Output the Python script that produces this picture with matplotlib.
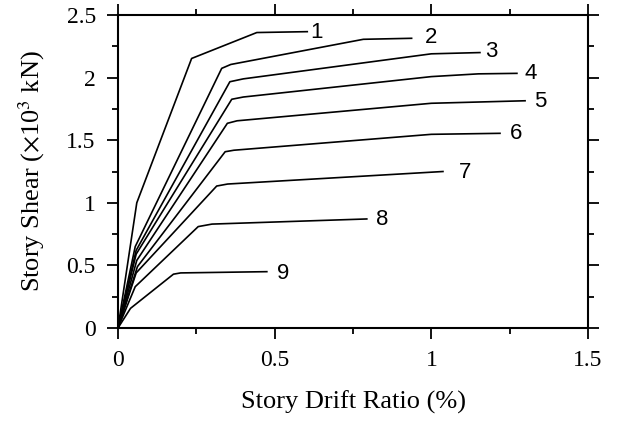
import numpy as np
import matplotlib
matplotlib.use('Agg')
import matplotlib.pyplot as plt
from matplotlib.ticker import MultipleLocator, FuncFormatter

plt.rcParams['font.family'] = ['Liberation Serif', 'DejaVu Serif']
plt.rcParams['mathtext.fontset'] = 'stix'

# pushover curves per story: drift ratio (%) vs story shear (x10^3 kN)
drift_1 = [0, 0.06, 0.235, 0.443, 0.604]
shear_1 = [0, 1.00, 2.153, 2.360, 2.367]
drift_2 = [0, 0.055, 0.331, 0.36, 0.783, 0.937]
shear_2 = [0, 0.65, 2.074, 2.105, 2.306, 2.314]
drift_3 = [0, 0.058, 0.357, 0.40, 1.0, 1.155]
shear_3 = [0, 0.62, 1.967, 1.99, 2.19, 2.20]
drift_4 = [0, 0.058, 0.363, 0.40, 1.0, 1.15, 1.273]
shear_4 = [0, 0.59, 1.827, 1.845, 2.008, 2.03, 2.034]
drift_5 = [0, 0.06, 0.349, 0.38, 1.0, 1.299]
shear_5 = [0, 0.54, 1.635, 1.655, 1.795, 1.815]
drift_6 = [0, 0.062, 0.342, 0.37, 1.0, 1.219]
shear_6 = [0, 0.49, 1.408, 1.42, 1.547, 1.555]
drift_7 = [0, 0.058, 0.315, 0.35, 1.037]
shear_7 = [0, 0.44, 1.134, 1.15, 1.25]
drift_8 = [0, 0.055, 0.256, 0.30, 0.794]
shear_8 = [0, 0.33, 0.81, 0.83, 0.871]
drift_9 = [0, 0.04, 0.177, 0.20, 0.475]
shear_9 = [0, 0.157, 0.43, 0.44, 0.45]

story_names = ['1', '2', '3', '4', '5', '6', '7', '8', '9']
label_x = [0.635, 0.999, 1.19, 1.318, 1.347, 1.27, 1.107, 0.843, 0.526]
label_y = [2.364, 2.324, 2.212, 2.029, 1.813, 1.55, 1.246, 0.863, 0.439]

drifts = [drift_1, drift_2, drift_3, drift_4, drift_5, drift_6, drift_7, drift_8, drift_9]
shears = [shear_1, shear_2, shear_3, shear_4, shear_5, shear_6, shear_7, shear_8, shear_9]

fig = plt.figure(figsize=(6.19, 4.24), dpi=100)
ax = fig.add_axes([0.1906, 0.2264, 0.7594, 0.7382])

for d, s in zip(drifts, shears):
	ax.plot(d, s, color='black', linewidth=1.2)

for name, lx, ly in zip(story_names, label_x, label_y):
	ax.text(lx, ly, name, family=['Liberation Sans', 'DejaVu Sans'], fontsize=16,
		ha='center', va='center')

ax.set_xlim(0, 1.5)
ax.set_ylim(0, 2.5)
ax.xaxis.set_major_locator(MultipleLocator(0.5))
ax.xaxis.set_minor_locator(MultipleLocator(0.25))
ax.yaxis.set_major_locator(MultipleLocator(0.5))
ax.yaxis.set_minor_locator(MultipleLocator(0.25))
ax.xaxis.set_major_formatter(FuncFormatter(lambda v, p: '%g' % v))
ax.yaxis.set_major_formatter(FuncFormatter(lambda v, p: '%g' % v))
ax.tick_params(which='both', direction='out', top=True, right=True, labelsize=17, width=1.3, pad=8)
ax.tick_params(which='major', length=8)
ax.tick_params(which='minor', length=4)
for sp in ax.spines.values():
	sp.set_linewidth(1.5)

ax.set_xlabel('Story Drift Ratio (%)', fontsize=19, labelpad=14)
ax.set_ylabel(r'Story Shear ($\times$10$^3$ kN)', fontsize=19, labelpad=14)

fig.savefig('out.png', dpi=100)
